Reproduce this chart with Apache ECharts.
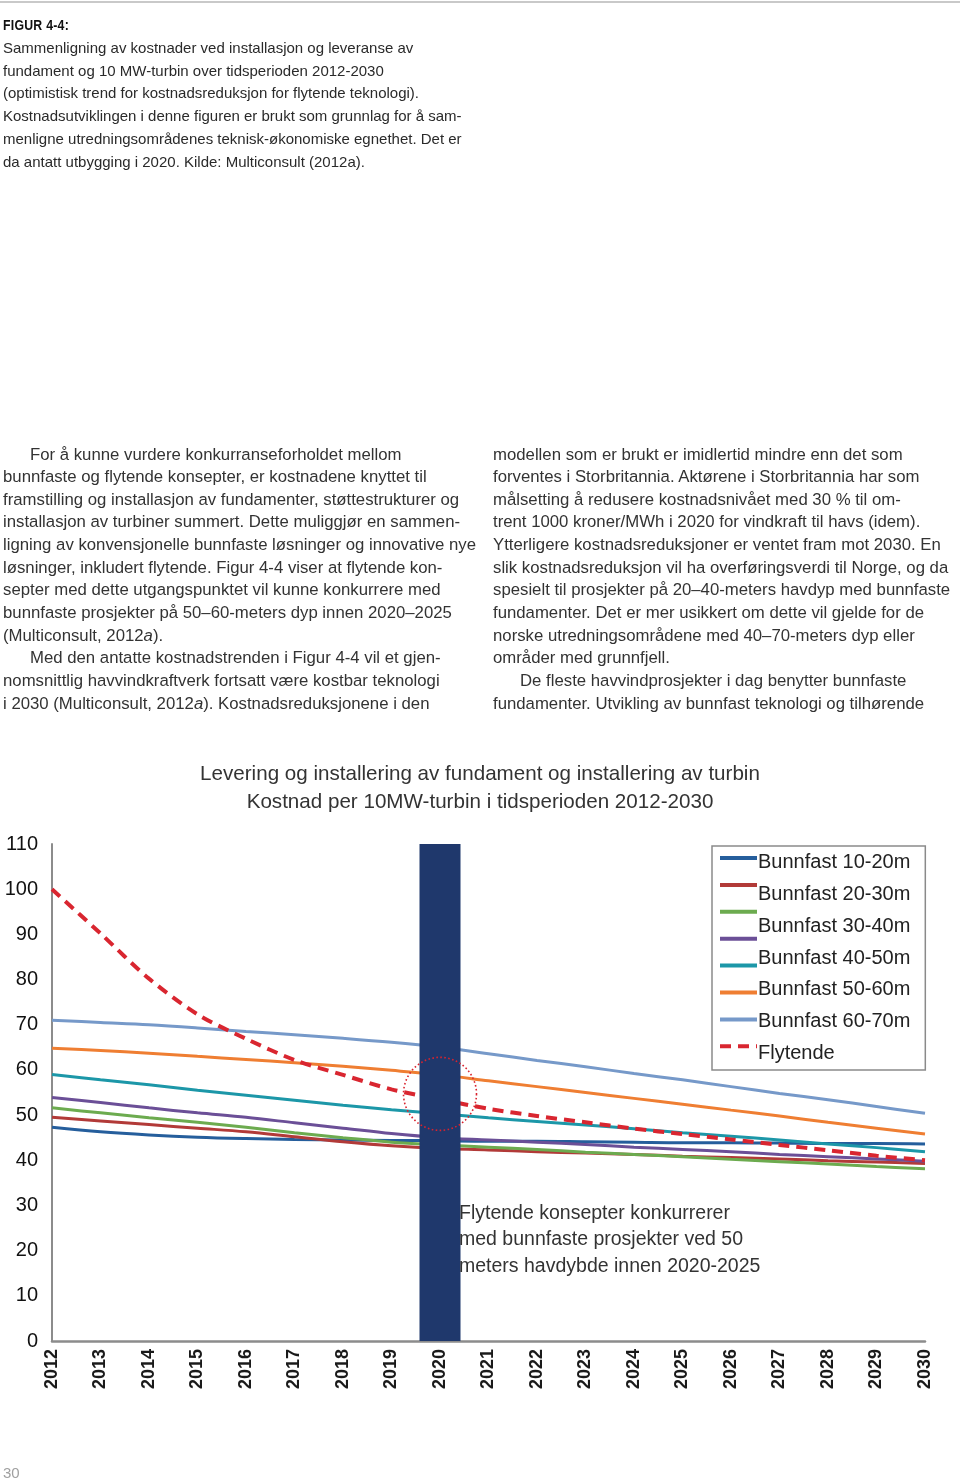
<!DOCTYPE html>
<html><head><meta charset="utf-8">
<script src="https://cdn.jsdelivr.net/npm/echarts@6/dist/echarts.min.js"></script>
<style>
html,body{margin:0;padding:0;background:#fff;width:960px;height:1481px;overflow:hidden;}
#chart{position:absolute;left:0;top:0;width:960px;height:1481px;}
.rule{position:absolute;left:0;top:1px;width:960px;height:2px;background:#c9c9c9;}
.t{position:absolute;font-family:'Liberation Sans',Arial,sans-serif;color:#2a2a2a;white-space:nowrap;}
.fig{left:3px;top:16px;font-size:15px;font-weight:bold;letter-spacing:0.3px;transform:scaleX(0.82);transform-origin:left;color:#111;}
.cap{left:3px;top:37px;font-size:15px;line-height:22.7px;}
.body{font-size:16.75px;line-height:22.65px;top:443.5px;color:#333;}
.col1{left:3px;}
.col2{left:493px;}
.ind{padding-left:27px;}
.pg{left:3px;top:1464px;font-size:15px;color:#a0a0a0;}
</style></head><body>
<div id="chart"></div>
<div class="rule"></div>
<div class="t fig">FIGUR 4-4:</div>
<div class="t cap">
<div>Sammenligning av kostnader ved installasjon og leveranse av</div>
<div>fundament og 10 MW-turbin over tidsperioden 2012-2030</div>
<div>(optimistisk trend for kostnadsreduksjon for flytende teknologi).</div>
<div>Kostnadsutviklingen i denne figuren er brukt som grunnlag for å sam-</div>
<div>menligne utredningsområdenes teknisk-økonomiske egnethet. Det er</div>
<div>da antatt utbygging i 2020. Kilde: Multiconsult (2012a).</div>
</div>
<div class="t body col1">
<div class="ind">For å kunne vurdere konkurranseforholdet mellom</div>
<div>bunnfaste og flytende konsepter, er kostnadene knyttet til</div>
<div>framstilling og installasjon av fundamenter, støttestrukturer og</div>
<div>installasjon av turbiner summert. Dette muliggjør en sammen-</div>
<div>ligning av konvensjonelle bunnfaste løsninger og innovative nye</div>
<div>løsninger, inkludert flytende. Figur 4-4 viser at flytende kon-</div>
<div>septer med dette utgangspunktet vil kunne konkurrere med</div>
<div>bunnfaste prosjekter på 50–60-meters dyp innen 2020–2025</div>
<div>(Multiconsult, 2012<i>a</i>).</div>
<div class="ind">Med den antatte kostnadstrenden i Figur 4-4 vil et gjen-</div>
<div>nomsnittlig havvindkraftverk fortsatt være kostbar teknologi</div>
<div>i 2030 (Multiconsult, 2012<i>a</i>). Kostnadsreduksjonene i den</div>
</div>
<div class="t body col2">
<div>modellen som er brukt er imidlertid mindre enn det som</div>
<div>forventes i Storbritannia. Aktørene i Storbritannia har som</div>
<div>målsetting å redusere kostnadsnivået med 30 % til om-</div>
<div>trent 1000 kroner/MWh i 2020 for vindkraft til havs (idem).</div>
<div>Ytterligere kostnadsreduksjoner er ventet fram mot 2030. En</div>
<div>slik kostnadsreduksjon vil ha overføringsverdi til Norge, og da</div>
<div>spesielt til prosjekter på 20–40-meters havdyp med bunnfaste</div>
<div>fundamenter. Det er mer usikkert om dette vil gjelde for de</div>
<div>norske utredningsområdene med 40–70-meters dyp eller</div>
<div>områder med grunnfjell.</div>
<div class="ind">De fleste havvindprosjekter i dag benytter bunnfaste</div>
<div>fundamenter. Utvikling av bunnfast teknologi og tilhørende</div>
</div>
<div class="t pg">30</div>
<script>
// ---- data ----
var years = ['2012','2013','2014','2015','2016','2017','2018','2019','2020','2021','2022','2023','2024','2025','2026','2027','2028','2029','2030'];
var yTicks = [0,10,20,30,40,50,60,70,80,90,100,110];
var b10_20 = [47.3,46.3,45.6,45.1,44.8,44.6,44.5,44.4,44.3,44.2,44.2,44.1,44.0,43.9,43.9,43.8,43.7,43.7,43.6];
var b20_30 = [49.5,48.7,47.9,47.1,46.3,45.2,44.1,43.2,42.6,42.3,41.9,41.6,41.3,40.9,40.6,40.3,39.9,39.6,39.3];
var b30_40 = [51.6,50.5,49.4,48.4,47.3,46.1,45.0,44.0,43.4,42.9,42.4,41.8,41.3,40.8,40.2,39.7,39.2,38.6,38.1];
var bPurple = [53.9,52.8,51.6,50.5,49.5,48.3,47.1,45.9,45.0,44.5,44.0,43.5,42.9,42.4,41.9,41.3,40.8,40.3,39.8];
var b40_50 = [59.0,57.8,56.7,55.5,54.4,53.3,52.2,51.2,50.3,49.4,48.6,47.8,47.0,46.1,45.3,44.5,43.6,42.8,41.9];
var b50_60 = [64.8,64.3,63.7,63.0,62.3,61.6,60.8,59.9,58.9,57.6,56.3,55.0,53.7,52.4,51.1,49.8,48.4,47.1,45.8];
var b60_70 = [71.0,70.5,70.0,69.3,68.5,67.8,67.0,66.1,65.0,63.6,62.1,60.7,59.2,57.8,56.3,54.8,53.4,51.9,50.4];
var flytende = [100,90.2,80.2,72.3,66.9,62.2,58.9,55.7,53.5,51.4,49.8,48.4,47.0,45.8,44.6,43.4,42.2,41.0,40.0];
var markerBar = [null,null,null,null,null,null,null,null,110,null,null,null,null,null,null,null,null,null,null];
var circleAt = {year:'2020', value:54.7};
var legendNames = ['Bunnfast 10-20m','Bunnfast 20-30m','Bunnfast 30-40m','Bunnfast 40-50m','Bunnfast 50-60m','Bunnfast 60-70m','Flytende'];
var unlabeledName = 'Bunnfast (lilla)';
var titleText = 'Levering og installering av fundament og installering av turbin\nKostnad per 10MW-turbin i tidsperioden 2012-2030';
var noteText = 'Flytende konsepter konkurrerer\nmed bunnfaste prosjekter ved 50\nmeters havdybde innen 2020-2025';

var FONT = "'Liberation Sans', Arial, sans-serif";
var chart = echarts.init(document.getElementById('chart'), null, {renderer:'canvas'});

function lineSeries(name, data, color, extra){
  var s = {name:name, type:'line', data:data, symbol:'none', smooth:0.35, z:2,
    lineStyle:{color:color, width:3}, itemStyle:{color:color}};
  if (extra) for (var k in extra) s[k] = extra[k];
  return s;
}

var series = [
  {name:'marker', type:'bar', data:markerBar, barWidth:41, z:5, itemStyle:{color:'#1f386c'}},
  lineSeries('Bunnfast 10-20m', b10_20, '#255e9c'),
  lineSeries('Bunnfast 20-30m', b20_30, '#b23a38'),
  lineSeries('Bunnfast 30-40m', b30_40, '#6cab4f'),
  lineSeries(unlabeledName, bPurple, '#6b4f97'),
  lineSeries('Bunnfast 40-50m', b40_50, '#1c97a8'),
  lineSeries('Bunnfast 50-60m', b50_60, '#ef7e32'),
  lineSeries('Bunnfast 60-70m', b60_70, '#7699c9'),
  lineSeries('Flytende', flytende, '#d92630', {smooth:0.3, lineStyle:{color:'#d92630', width:4, type:[11,7]}})
];

var iconOrder = ['Bunnfast 10-20m','Bunnfast 20-30m','Bunnfast 30-40m',unlabeledName,'Bunnfast 40-50m','Bunnfast 50-60m','Bunnfast 60-70m','Flytende'];

chart.setOption({
  animation:false,
  backgroundColor:'transparent',
  title:{text:titleText, left:'center', top:760, padding:0,
    textStyle:{fontFamily:FONT, fontSize:20.6, fontWeight:'normal', color:'#333', lineHeight:28}},
  legend:[
    {data:iconOrder, orient:'vertical', left:718, top:851, padding:0, itemWidth:37, itemHeight:14, itemGap:14.3,
     selectedMode:false, formatter:function(){return '';}, itemStyle:{opacity:0}, lineStyle:{width:4},
     textStyle:{fontSize:1}, z:10},
    {data:legendNames.map(function(n){return {name:n, icon:'none'};}), orient:'vertical', left:712, top:846,
     padding:[5.6,15,5.6,5], itemWidth:36, itemHeight:22, itemGap:9.8, selectedMode:false,
     borderColor:'#8a8a8a', borderWidth:1.5, backgroundColor:'#fff',
     textStyle:{fontFamily:FONT, fontSize:20, color:'#222', lineHeight:22}}
  ],
  grid:{left:52, right:35, top:844, bottom:140},
  xAxis:{type:'category', data:years, boundaryGap:false,
    axisLine:{show:true, lineStyle:{color:'#8c8c8c', width:2.5}},
    axisTick:{show:false}, splitLine:{show:false},
    axisLabel:{rotate:90, margin:8, fontFamily:FONT, fontSize:18, fontWeight:'bold', color:'#1a1a1a', interval:0}},
  yAxis:{type:'value', min:yTicks[0], max:yTicks[yTicks.length-1], interval:10,
    axisLine:{show:true, lineStyle:{color:'#8c8c8c', width:2}},
    axisTick:{show:false}, splitLine:{show:false},
    axisLabel:{margin:14, fontFamily:FONT, fontSize:20, color:'#111'}},
  series:series
});

var c = chart.convertToPixel({xAxisIndex:0, yAxisIndex:0}, [years.indexOf(circleAt.year), circleAt.value]);
chart.setOption({
  graphic:[
    {type:'circle', z:20, shape:{cx:c[0], cy:c[1], r:36.5},
     style:{fill:'none', stroke:'#d9232e', lineWidth:1.6, lineDash:[1.6,2.4]}},
    {type:'text', z:20, x:459, y:1200,
     style:{text:noteText, fontFamily:FONT, fontSize:19.5, lineHeight:26.5, fill:'#333', verticalAlign:'top', align:'left'}}
  ]
});
</script>
</body></html>
